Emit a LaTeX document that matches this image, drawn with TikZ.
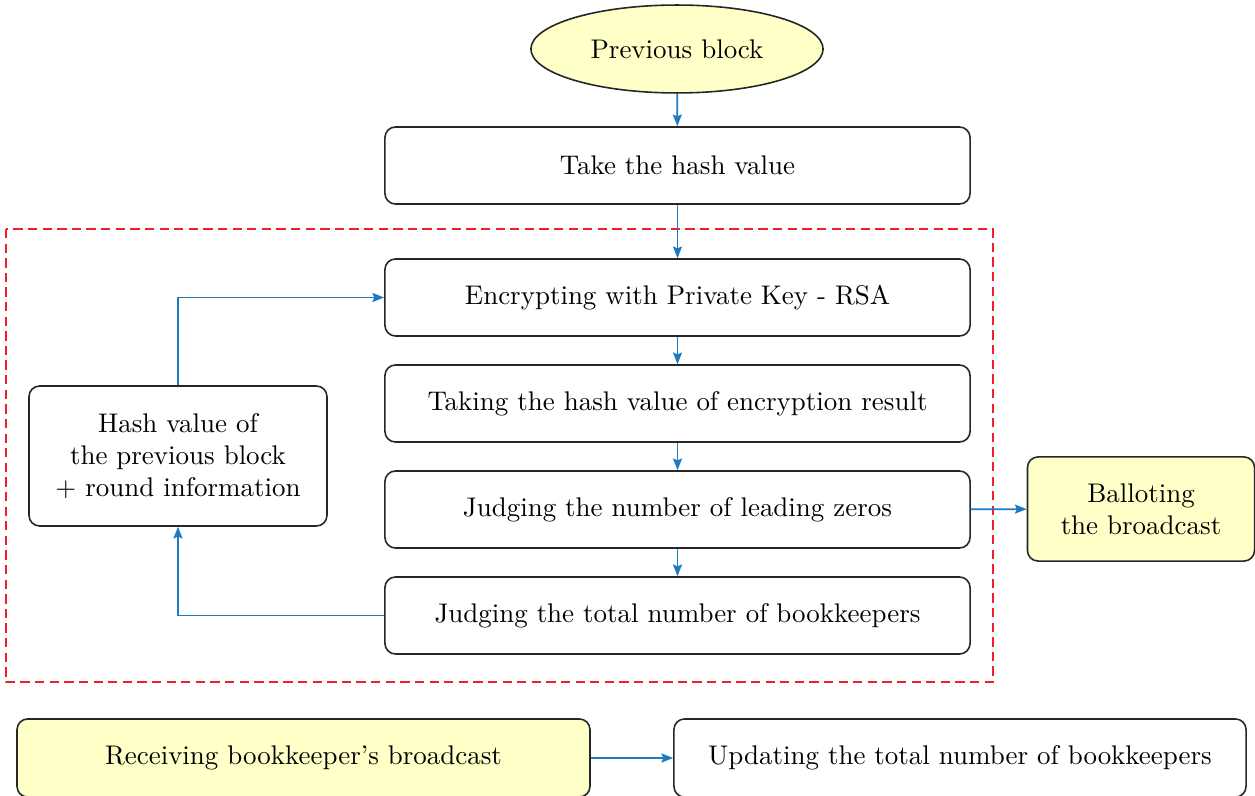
\documentclass[tikz,border=0pt]{standalone}
\usetikzlibrary{arrows.meta,shapes.geometric}
\definecolor{byellow}{RGB}{255,255,200}
\definecolor{ablue}{RGB}{30,122,192}
\definecolor{dred}{RGB}{240,30,40}
\begin{document}
\begin{tikzpicture}[x=0.3765pt,y=-0.3765pt,
  every node/.style={font=\fontsize{10.15pt}{12.1pt}\selectfont},
  box/.style={draw=black!85,line width=0.6pt,rounded corners=4pt,align=center,inner sep=0pt},
  mainbox/.style={box,minimum width=220.3pt,minimum height=29pt},
  ybox/.style={box,fill=byellow},
  conn/.style={draw=ablue,line width=0.65pt,-{Stealth[length=4.4pt,width=3.4pt,inset=0.7pt]}}]
\useasboundingbox (0,0) rectangle (1255,796);
% dashed region
\draw[dred,line width=0.5pt,dash pattern=on 3.5pt off 2pt] (6,229) rectangle (993,682);
\node[ellipse,draw=black!85,line width=0.6pt,fill=byellow,minimum width=110pt,minimum height=33.1pt,inner sep=0pt] (prev) at (677,49) {Previous block};
\node[mainbox] (hash) at (677.5,165.5) {Take the hash value};
\node[mainbox] (enc) at (677.5,297.5) {Encrypting with Private Key - RSA};
\node[mainbox] (tak) at (677.5,403.5) {Taking the hash value of encryption result};
\node[mainbox] (zer) at (677.5,509.5) {Judging the number of leading zeros};
\node[mainbox] (tot) at (677.5,615.5) {Judging the total number of bookkeepers};
\node[box,minimum width=112.2pt,minimum height=52.7pt] (hv) at (178,456) {Hash value of\\the previous block\\+ round information};
\node[ybox,minimum width=85.5pt,minimum height=39.2pt] (bal) at (1141,509) {Balloting\\the broadcast};
\node[ybox,minimum width=215.7pt,minimum height=29.4pt] (rec) at (303.5,758) {Receiving bookkeeper's broadcast};
\node[box,minimum width=215.4pt,minimum height=29.4pt] (upd) at (960,758) {Updating the total number of bookkeepers};
% connectors
\draw[conn] (prev) -- (hash);
\draw[conn] (hash) -- (enc);
\draw[conn] (enc) -- (tak);
\draw[conn] (tak) -- (zer);
\draw[conn] (zer) -- (tot);
\draw[conn] (zer) -- (bal);
\draw[conn] (hv.north) |- (enc.west);
\draw[conn] (tot.west) -| (hv.south);
\draw[conn] (rec) -- (upd);
\end{tikzpicture}
\end{document}
